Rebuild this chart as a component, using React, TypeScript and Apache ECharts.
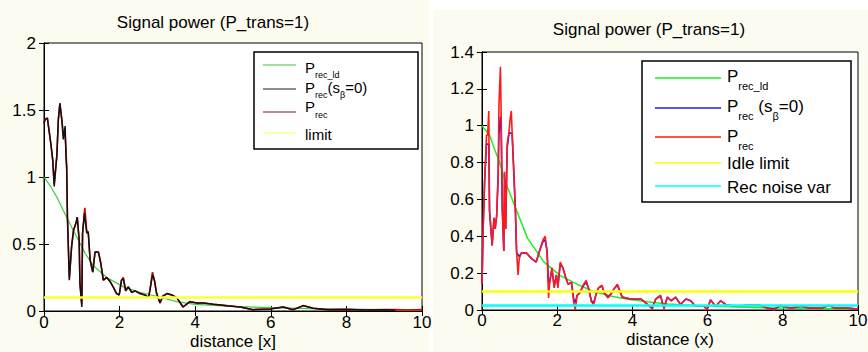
import React, { useEffect, useRef } from "react";
import * as echarts from "echarts";

// ---------- data ----------
// Left panel
const leftIdeal: [number, number][] = [
  [0, 1.0], [0.15, 0.94], [0.34, 0.85], [0.51, 0.75], [0.69, 0.65], [0.87, 0.55], [1.09, 0.43],
  [1.3, 0.34], [1.66, 0.25], [2.1, 0.18], [2.54, 0.14], [2.98, 0.11], [3.51, 0.07], [4.0, 0.05],
  [5.0, 0.035], [6.0, 0.025], [7.0, 0.018], [8.0, 0.014], [9.0, 0.011], [10, 0.009],
];
const leftRecNoShadow: [number, number][] = [
  [0, 1.4], [0.03, 1.43], [0.09, 1.44], [0.18, 1.25], [0.23, 1.13], [0.27, 0.93], [0.34, 1.16],
  [0.38, 1.43], [0.42, 1.55], [0.47, 1.43], [0.51, 1.28], [0.56, 1.38], [0.58, 1.16], [0.6, 1.07],
  [0.62, 0.7], [0.67, 0.23], [0.73, 0.48], [0.78, 0.6], [0.85, 0.66], [0.88, 0.7], [0.93, 0.53],
  [0.95, 0.21], [1.0, 0.03], [1.02, 0.58], [1.07, 0.73], [1.13, 0.58], [1.17, 0.59], [1.22, 0.38],
  [1.29, 0.29], [1.35, 0.44], [1.44, 0.44], [1.5, 0.36], [1.57, 0.23], [1.66, 0.25], [1.75, 0.22],
  [1.83, 0.18], [1.92, 0.13], [1.99, 0.12], [2.05, 0.23], [2.1, 0.24], [2.16, 0.15], [2.23, 0.18],
  [2.32, 0.14], [2.41, 0.15], [2.54, 0.13], [2.67, 0.12], [2.76, 0.1], [2.8, 0.15], [2.87, 0.27],
  [2.92, 0.23], [2.98, 0.13], [3.07, 0.06], [3.14, 0.11], [3.25, 0.13], [3.38, 0.12], [3.51, 0.1],
  [3.68, 0.03], [3.86, 0.07], [4.04, 0.06], [4.22, 0.06], [4.48, 0.05], [4.83, 0.04], [5.19, 0.03],
  [5.53, 0.01], [5.98, 0.015], [6.33, 0.03], [6.59, 0.01], [6.86, 0.04], [7.12, 0.02], [7.5, 0.01],
  [8.0, 0.012], [8.5, 0.008], [9.0, 0.01], [9.3, 0.006],
];
const leftRec: [number, number][] = [
  [0, 1.4], [0.03, 1.43], [0.09, 1.44], [0.18, 1.25], [0.23, 1.13], [0.27, 0.95], [0.34, 1.16],
  [0.38, 1.43], [0.42, 1.55], [0.47, 1.43], [0.51, 1.33], [0.56, 1.3], [0.58, 1.22], [0.6, 1.07],
  [0.62, 0.7], [0.67, 0.25], [0.73, 0.48], [0.78, 0.6], [0.85, 0.66], [0.88, 0.7], [0.93, 0.53],
  [0.95, 0.21], [1.0, 0.05], [1.02, 0.58], [1.08, 0.77], [1.13, 0.6], [1.17, 0.59], [1.22, 0.38],
  [1.29, 0.29], [1.35, 0.44], [1.44, 0.44], [1.5, 0.36], [1.57, 0.23], [1.66, 0.25], [1.75, 0.22],
  [1.83, 0.18], [1.92, 0.13], [1.99, 0.12], [2.05, 0.23], [2.1, 0.25], [2.16, 0.15], [2.23, 0.18],
  [2.32, 0.14], [2.41, 0.15], [2.54, 0.13], [2.67, 0.12], [2.76, 0.1], [2.8, 0.15], [2.87, 0.29],
  [2.92, 0.23], [2.98, 0.13], [3.07, 0.06], [3.14, 0.11], [3.25, 0.13], [3.38, 0.12], [3.51, 0.1],
  [3.68, 0.03], [3.86, 0.07], [4.04, 0.06], [4.22, 0.06], [4.48, 0.05], [4.83, 0.04], [5.19, 0.03],
  [5.53, 0.01], [5.98, 0.015], [6.33, 0.03], [6.59, 0.01], [6.86, 0.04], [7.12, 0.02], [7.5, 0.01],
  [8.0, 0.012], [8.5, 0.008], [9.0, 0.01], [9.3, 0.01], [9.6, 0.008], [10, 0.01],
];
const leftLimit = 0.1;

// Right panel
const rightIdeal: [number, number][] = [
  [0, 1.0], [0.2, 0.95], [0.34, 0.87], [0.47, 0.8], [0.63, 0.69], [0.9, 0.55], [1.21, 0.39],
  [1.65, 0.26], [2.09, 0.185], [2.53, 0.14], [2.98, 0.1], [3.42, 0.076], [3.87, 0.058],
  [4.4, 0.045], [4.93, 0.033], [5.64, 0.025], [6.52, 0.018], [7.59, 0.012], [8.7, 0.008], [10, 0.006],
];
const rightRecNoShadow: [number, number][] = [
  [0, 0.14], [0.03, 0.44], [0.07, 0.7], [0.12, 0.9], [0.15, 0.9], [0.18, 0.9], [0.2, 0.54],
  [0.27, 0.35], [0.32, 0.5], [0.35, 0.44], [0.39, 0.51], [0.43, 0.73], [0.45, 0.95], [0.49, 1.05],
  [0.51, 0.97], [0.54, 0.55], [0.58, 0.32], [0.6, 0.72], [0.63, 0.44], [0.67, 0.88], [0.72, 0.96],
  [0.75, 0.96], [0.78, 0.96], [0.8, 0.96], [0.85, 0.73], [0.89, 0.53], [0.92, 0.31], [0.96, 0.3],
  [0.99, 0.29], [1.05, 0.31], [1.18, 0.31], [1.31, 0.28], [1.44, 0.26], [1.53, 0.32], [1.62, 0.37],
  [1.68, 0.38], [1.73, 0.32], [1.77, 0.15], [1.8, 0.15], [1.86, 0.22], [1.92, 0.13], [1.98, 0.19],
  [2.02, 0.13], [2.08, 0.25], [2.15, 0.23], [2.22, 0.18], [2.29, 0.14], [2.38, 0.15], [2.44, 0.06],
  [2.48, 0.04], [2.53, 0.08], [2.59, 0.09], [2.69, 0.13], [2.77, 0.15], [2.83, 0.12], [2.91, 0.05],
  [2.97, 0.04], [3.04, 0.09], [3.1, 0.12], [3.19, 0.13], [3.26, 0.09], [3.35, 0.07], [3.44, 0.09],
  [3.53, 0.12], [3.6, 0.135], [3.73, 0.07], [3.95, 0.06], [4.22, 0.06], [4.4, 0.03], [4.53, 0.01],
  [4.62, 0.06], [4.75, 0.075], [4.84, 0.01], [4.93, 0.07], [5.03, 0.05], [5.15, 0.07], [5.28, 0.03],
  [5.42, 0.06], [5.55, 0.05], [5.68, 0.02], [5.9, 0.02], [5.99, 0.005], [6.08, 0.055], [6.21, 0.02],
  [6.35, 0.05], [6.48, 0.03], [6.7, 0.02], [7.06, 0.025], [7.41, 0.025], [7.59, 0.01], [7.77, 0.005],
  [7.94, 0.025], [8.21, 0.01], [8.48, 0.02], [8.74, 0.01], [9.01, 0.01], [9.23, 0.025], [9.37, 0.01],
  [9.72, 0.01], [10, 0.005],
];
const rightRec: [number, number][] = [
  [0, 0.14], [0.03, 0.44], [0.07, 0.7], [0.12, 0.95], [0.15, 0.95], [0.18, 1.08], [0.2, 0.54],
  [0.27, 0.35], [0.32, 0.5], [0.35, 0.44], [0.39, 0.51], [0.43, 0.73], [0.45, 1.11], [0.49, 1.32],
  [0.51, 1.06], [0.54, 0.55], [0.58, 0.32], [0.6, 0.75], [0.63, 0.44], [0.67, 0.9], [0.72, 0.97],
  [0.75, 1.04], [0.78, 1.08], [0.8, 0.97], [0.85, 0.73], [0.89, 0.53], [0.92, 0.32], [0.96, 0.19],
  [0.99, 0.28], [1.05, 0.31], [1.18, 0.31], [1.31, 0.28], [1.44, 0.26], [1.53, 0.32], [1.62, 0.38],
  [1.68, 0.4], [1.73, 0.32], [1.77, 0.065], [1.8, 0.15], [1.86, 0.23], [1.92, 0.12], [1.98, 0.19],
  [2.02, 0.12], [2.08, 0.26], [2.15, 0.23], [2.22, 0.18], [2.29, 0.14], [2.38, 0.15], [2.44, 0.04],
  [2.48, 0.0], [2.53, 0.08], [2.59, 0.09], [2.69, 0.135], [2.77, 0.16], [2.83, 0.12], [2.91, 0.045],
  [2.97, 0.03], [3.04, 0.09], [3.1, 0.12], [3.19, 0.135], [3.26, 0.09], [3.35, 0.065], [3.44, 0.09],
  [3.53, 0.12], [3.6, 0.14], [3.73, 0.07], [3.95, 0.06], [4.22, 0.06], [4.4, 0.03], [4.53, 0.005],
  [4.62, 0.06], [4.75, 0.08], [4.84, 0.005], [4.93, 0.07], [5.03, 0.05], [5.15, 0.07], [5.28, 0.03],
  [5.42, 0.06], [5.55, 0.05], [5.68, 0.02], [5.9, 0.02], [5.99, 0.0], [6.08, 0.055], [6.21, 0.02],
  [6.35, 0.05], [6.48, 0.03], [6.7, 0.02], [7.06, 0.025], [7.41, 0.025], [7.59, 0.01], [7.77, 0.0],
  [7.94, 0.025], [8.21, 0.01], [8.48, 0.02], [8.74, 0.01], [9.01, 0.01], [9.23, 0.025], [9.37, 0.01],
  [9.72, 0.01], [10, 0.005],
];
const rightIdleLimit = 0.1;
const rightNoiseVar = 0.025;

const titleText = "Signal power (P_trans=1)";
const leftXName = "distance [x]";
const rightXName = "distance (x)";

// ---------- helpers ----------
const FONT = '"Liberation Sans", Arial, sans-serif';
const TICK_SIZE = 17;
const measureCtx =
  typeof document !== "undefined" ? document.createElement("canvas").getContext("2d") : null;
function textW(t: string, size: number): number {
  if (!measureCtx) return t.length * size * 0.55;
  measureCtx.font = `${size}px "Liberation Sans"`;
  return measureCtx.measureText(t).width;
}

type Part = { t: string; sub?: boolean };
function legendEntry(
  lineX1: number, lineX2: number, lineY: number, color: string, lineW: number,
  textX: number, textY: number, parts: Part[], mainSize: number, subSize: number, subDy: number
) {
  const els: any[] = [
    {
      type: "line",
      shape: { x1: lineX1, y1: lineY, x2: lineX2, y2: lineY },
      style: { stroke: color, lineWidth: lineW },
      silent: true,
    },
  ];
  let x = textX;
  for (const p of parts) {
    const size = p.sub ? subSize : mainSize;
    els.push({
      type: "text",
      x: x,
      y: p.sub ? textY + subDy : textY,
      style: {
        text: p.t,
        fontSize: size,
        fontFamily: FONT,
        fill: "#000",
        align: "left",
        verticalAlign: "middle",
        textAlign: "left",
        textVerticalAlign: "middle",
      },
      silent: true,
    });
    x += textW(p.t, size);
  }
  return els;
}

function centerText(text: string, x: number, y: number, size: number) {
  return {
    type: "text",
    x,
    y,
    style: {
      text,
      fontSize: size,
      fontFamily: FONT,
      fill: "#000",
      align: "center",
      verticalAlign: "middle",
      textAlign: "center",
      textVerticalAlign: "middle",
    },
    silent: true,
  };
}

function lineSeries(name: string, data: [number, number][], idx: number, color: string, width: number, z: number) {
  return {
    name,
    type: "line",
    xAxisIndex: idx,
    yAxisIndex: idx,
    data,
    showSymbol: false,
    symbol: "none",
    lineStyle: { color, width },
    itemStyle: { color },
    z,
    silent: true,
  };
}

function xAxes(grid: number, name: string, nameGap: number, labelMargin: number) {
  const common = {
    gridIndex: grid,
    type: "value",
    min: 0,
    max: 10,
    interval: 2,
    splitLine: { show: false },
    axisLine: { show: true, lineStyle: { color: "#000", width: 1 } },
    axisTick: { show: true, inside: true, length: 5, lineStyle: { color: "#000" } },
  };
  return [
    {
      ...common,
      position: "bottom",
      axisLabel: { show: true, color: "#000", fontSize: TICK_SIZE, fontFamily: FONT, margin: labelMargin },
      name,
      nameLocation: "middle",
      nameGap,
      nameMoveOverlap: false,
      nameTextStyle: { color: "#000", fontSize: 17, fontFamily: FONT },
    },
    { ...common, position: "top", axisLabel: { show: false } },
  ];
}

function yAxes(grid: number, max: number, interval: number) {
  const common = {
    gridIndex: grid,
    type: "value",
    min: 0,
    max,
    interval,
    splitLine: { show: false },
    axisLine: { show: true, lineStyle: { color: "#000", width: 1 } },
    axisTick: { show: true, inside: true, length: 5, lineStyle: { color: "#000" } },
  };
  return [
    {
      ...common,
      position: "left",
      axisLabel: { show: true, color: "#000", fontSize: TICK_SIZE, fontFamily: FONT, margin: 8 },
    },
    { ...common, position: "right", axisLabel: { show: false } },
  ];
}

export default function App() {
  const ref = useRef<HTMLDivElement>(null);
  useEffect(() => {
    if (!ref.current) return;
    const chart = echarts.init(ref.current, undefined, { renderer: "svg" });

    const graphics: any[] = [
      // figure backgrounds
      { type: "rect", shape: { x: 0, y: 0, width: 430, height: 352 }, style: { fill: "#fcfbf0" }, z: -10, silent: true },
      { type: "rect", shape: { x: 433, y: 10, width: 435, height: 342 }, style: { fill: "#fcfbf0" }, z: -10, silent: true },
      centerText(titleText, 213, 22, 17),
      centerText(titleText, 649, 29, 17),
      // left legend box
      {
        type: "rect",
        shape: { x: 254, y: 52, width: 164, height: 97 },
        style: { fill: "#fff", stroke: "#000", lineWidth: 1.5 },
        z: 50,
        silent: true,
      },
      // right legend box
      {
        type: "rect",
        shape: { x: 642, y: 61, width: 209, height: 141 },
        style: { fill: "#fff", stroke: "#000", lineWidth: 1.5 },
        z: 50,
        silent: true,
      },
    ];

    const leftLegend = [
      ...legendEntry(263, 296, 65, "#3ccc3c", 1.2, 305, 67, [{ t: "P" }, { t: "rec_ld", sub: true }], 15, 9, 8),
      ...legendEntry(263, 296, 89, "#1a1a2e", 1.2, 305, 87, [{ t: "P" }, { t: "rec", sub: true }, { t: "(s" }, { t: "β", sub: true }, { t: "=0)" }], 15, 9, 8),
      ...legendEntry(263, 296, 112, "#7b1c1c", 1.2, 305, 106, [{ t: "P" }, { t: "rec", sub: true }], 15, 9, 9),
      ...legendEntry(263, 296, 133, "#ffff55", 1.2, 305, 134, [{ t: "limit" }], 15, 9, 8),
    ];
    const rightLegend = [
      ...legendEntry(655, 721, 78, "#22ee22", 1.5, 727, 76, [{ t: "P" }, { t: "rec_ld", sub: true }], 17, 11, 10),
      ...legendEntry(655, 721, 108, "#1a1aff", 1.5, 727, 106, [{ t: "P" }, { t: "rec", sub: true }, { t: " (s" }, { t: "β", sub: true }, { t: "=0)" }], 17, 11, 10),
      ...legendEntry(655, 721, 137, "#ff1a1a", 1.5, 727, 136, [{ t: "P" }, { t: "rec", sub: true }], 17, 11, 10),
      ...legendEntry(655, 721, 163, "#ffff00", 1.5, 727, 163, [{ t: "Idle limit" }], 17, 11, 10),
      ...legendEntry(655, 721, 186, "#00ffff", 1.5, 727, 187, [{ t: "Rec noise var" }], 17, 11, 10),
    ];
    for (const e of [...leftLegend, ...rightLegend]) {
      graphics.push({ ...e, z: 60 });
    }

    const option: any = {
      animation: false,
      backgroundColor: "#ffffff",
      grid: [
        { left: 44, top: 43, width: 378, height: 268, show: true, backgroundColor: "#fff", borderColor: "#000", borderWidth: 1, outerBoundsMode: "none", containLabel: false },
        { left: 482, top: 52, width: 376, height: 258, show: true, backgroundColor: "#fff", borderColor: "#000", borderWidth: 1, outerBoundsMode: "none", containLabel: false },
      ],
      xAxis: [...xAxes(0, leftXName, 22, 3), ...xAxes(1, rightXName, 21, 2)],
      yAxis: [...yAxes(0, 2, 0.5), ...yAxes(1, 1.4, 0.2)],
      series: [
        lineSeries("P_rec_ld", leftIdeal, 0, "#3ccc3c", 1.2, 2),
        lineSeries("P_rec", leftRec, 0, "#dd0000", 1.6, 3),
        lineSeries("P_rec (s_β=0)", leftRecNoShadow, 0, "#111111", 1.5, 4),
        lineSeries("limit", [[0, leftLimit], [10, leftLimit]], 0, "#ffff33", 2.5, 5),
        lineSeries("P_rec_ld ", rightIdeal, 2, "#22ee22", 1.5, 2),
        lineSeries("P_rec (s_β=0) ", rightRecNoShadow, 2, "#1a1aff", 1.6, 3),
        lineSeries("P_rec ", rightRec, 2, "#ff1a1a", 1.6, 4),
        lineSeries("Idle limit", [[0, rightIdleLimit], [10, rightIdleLimit]], 2, "#ffff00", 2.5, 5),
        lineSeries("Rec noise var", [[0, rightNoiseVar], [10, rightNoiseVar]], 2, "#00ffff", 2.5, 5),
      ],
      graphic: graphics,
    };
    chart.setOption(option);
    return () => chart.dispose();
  }, []);
  return (
    <div
      ref={ref}
      style={{ position: "absolute", left: 0, top: 0, width: 868, height: 352 }}
    />
  );
}
